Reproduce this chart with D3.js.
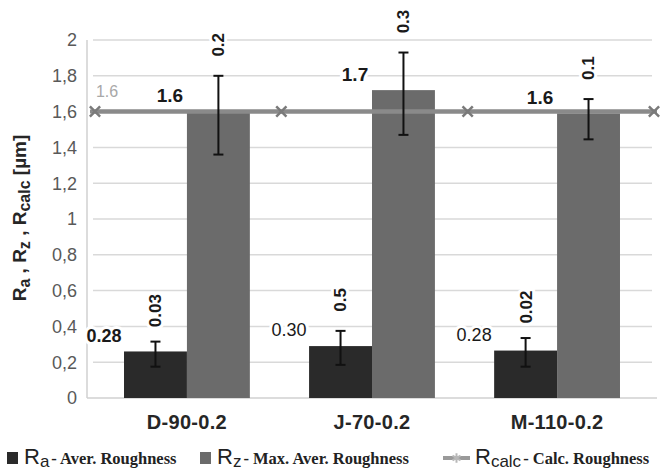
<!DOCTYPE html>
<html>
<head>
<meta charset="utf-8">
<script src="https://cdn.jsdelivr.net/npm/d3@7"></script>
<style>
body { margin: 0; background: #fff; }
svg { font-family: "Liberation Sans", Arial, sans-serif; }
.tick-label { fill: #595959; font-size: 18px; }
.cat-label { fill: #262626; font-size: 20px; font-weight: bold; letter-spacing: 0.3px; }
.val-label { fill: #1a1a1a; font-size: 19px; font-weight: bold; paint-order: stroke; stroke: #fff; stroke-width: 6px; }
.std-label { fill: #1a1a1a; font-size: 17px; font-weight: bold; paint-order: stroke; stroke: #fff; stroke-width: 6px; }
.legend-serif { font-family: "Liberation Serif", "Times New Roman", serif; font-size: 16.5px; font-weight: bold; fill: #222; }
</style>
</head>
<body>
<svg width="670" height="471"></svg>
<script>

var categories = ["D-90-0.2", "J-70-0.2", "M-110-0.2"];

// bar heights as drawn
var raValues = [0.26, 0.29, 0.265];
var rzValues = [1.6, 1.72, 1.59];

// error bar ends
var raLow = [0.175, 0.185, 0.175];
var raHigh = [0.315, 0.375, 0.335];
var rzLow = [1.36, 1.47, 1.445];
var rzHigh = [1.8, 1.93, 1.67];

// printed labels
var raLabels = ["0.28", "0.30", "0.28"];
var rzLabels = ["1.6", "1.7", "1.6"];
var raStdLabels = ["0.03", "0.5", "0.02"];
var rzStdLabels = ["0.2", "0.3", "0.1"];

var rcalcValues = [1.6, 1.6, 1.6, 1.6];
var rcalcLabel = "1.6";

var yTicks = [0, 0.2, 0.4, 0.6, 0.8, 1, 1.2, 1.4, 1.6, 1.8, 2];

var svg = d3.select("svg");

var y = d3.scaleLinear().domain([0, 2]).range([398, 40]);

var x = d3.scaleBand()
	.domain(categories)
	.range([87, 657])
	.paddingInner(0.32)
	.paddingOuter(0.2);

var xSub = d3.scaleBand()
	.domain(["ra", "rz"])
	.range([0, x.bandwidth()]);

var xCalc = d3.scalePoint()
	.domain(d3.range(rcalcValues.length))
	.range([95, 654]);

var fmt = function(d) { return String(+d.toFixed(1)).replace(".", ","); };

// grid
svg.append("g")
	.selectAll("line")
	.data(yTicks.filter(function(d) { return d > 0; }))
	.enter().append("line")
	.attr("x1", 93)
	.attr("x2", 652)
	.attr("y1", function(d) { return y(d); })
	.attr("y2", function(d) { return y(d); })
	.attr("stroke", "#d9d9d9")
	.attr("stroke-width", 1.5);

svg.append("line")
	.attr("x1", 87).attr("x2", 87)
	.attr("y1", y(2)).attr("y2", y(0))
	.attr("stroke", "#d0d0d0")
	.attr("stroke-width", 1.5);
svg.append("line")
	.attr("x1", 87).attr("x2", 657)
	.attr("y1", y(0)).attr("y2", y(0))
	.attr("stroke", "#d0d0d0")
	.attr("stroke-width", 1.5);

svg.append("g")
	.selectAll("text")
	.data(yTicks)
	.enter().append("text")
	.attr("class", "tick-label")
	.attr("x", 77)
	.attr("y", function(d) { return y(d); })
	.attr("dy", "0.35em")
	.attr("text-anchor", "end")
	.text(fmt);

svg.append("g")
	.selectAll("text")
	.data(categories)
	.enter().append("text")
	.attr("class", "cat-label")
	.attr("x", function(d) { return x(d) + x.bandwidth() / 2; })
	.attr("y", 429)
	.attr("text-anchor", "middle")
	.text(function(d) { return d; });

// bars
var groups = svg.append("g")
	.selectAll("g")
	.data(categories)
	.enter().append("g")
	.attr("transform", function(d) { return "translate(" + x(d) + ",0)"; });

groups.append("rect")
	.attr("x", xSub("ra"))
	.attr("width", xSub.bandwidth())
	.attr("y", function(d, i) { return y(raValues[i]); })
	.attr("height", function(d, i) { return y(0) - y(raValues[i]); })
	.attr("fill", "#2a2a2a");

groups.append("rect")
	.attr("x", xSub("rz"))
	.attr("width", xSub.bandwidth())
	.attr("y", function(d, i) { return y(rzValues[i]); })
	.attr("height", function(d, i) { return y(0) - y(rzValues[i]); })
	.attr("fill", "#6b6b6b");

// Rcalc line
var line = d3.line()
	.x(function(d, i) { return xCalc(i); })
	.y(function(d) { return y(d); });

svg.append("line")
	.attr("x1", 90).attr("x2", 657)
	.attr("y1", y(rcalcValues[0])).attr("y2", y(rcalcValues[rcalcValues.length - 1]))
	.attr("stroke", "#8a8a8a")
	.attr("stroke-width", 4);
svg.append("path")
	.datum(rcalcValues)
	.attr("d", line)
	.attr("fill", "none")
	.attr("stroke", "#8a8a8a")
	.attr("stroke-width", 4);

var cross = d3.symbol().type(d3.symbolX).size(70);
svg.append("g")
	.selectAll("path")
	.data(rcalcValues)
	.enter().append("path")
	.attr("d", cross)
	.attr("transform", function(d, i) { return "translate(" + xCalc(i) + "," + y(d) + ")"; })
	.attr("fill", "none")
	.attr("stroke", "#7a7a7a")
	.attr("stroke-width", 2.5);

svg.append("text")
	.attr("x", xCalc(0) + 12)
	.attr("y", y(rcalcValues[0]) - 20)
	.attr("dy", "0.35em")
	.attr("text-anchor", "middle")
	.attr("font-size", 16)
	.attr("fill", "#a8a8a8")
	.text(rcalcLabel);

// error bars
function errorBars(key, low, high) {
	var cx = function(d) { return x(d) + xSub(key) + xSub.bandwidth() / 2; };
	var e = svg.append("g").selectAll("g")
		.data(categories)
		.enter().append("g")
		.attr("stroke", "#111")
		.attr("stroke-width", 2);
	e.append("line")
		.attr("x1", cx).attr("x2", cx)
		.attr("y1", function(d, i) { return y(low[i]); })
		.attr("y2", function(d, i) { return y(high[i]); });
	[low, high].forEach(function(arr) {
		e.append("line")
			.attr("x1", function(d) { return cx(d) - 5; })
			.attr("x2", function(d) { return cx(d) + 5; })
			.attr("y1", function(d, i) { return y(arr[i]); })
			.attr("y2", function(d, i) { return y(arr[i]); });
	});
}
errorBars("ra", raLow, raHigh);
errorBars("rz", rzLow, rzHigh);

// value labels
svg.append("g")
	.selectAll("text")
	.data(categories)
	.enter().append("text")
	.attr("class", "val-label")
	.attr("x", function(d) { return x(d) + xSub("rz") - 17; })
	.attr("y", function(d, i) { return y(rzValues[i]) - 16; })
	.attr("dy", "0.35em")
	.attr("text-anchor", "middle")
	.text(function(d, i) { return rzLabels[i]; });

svg.append("g")
	.selectAll("text")
	.data(categories)
	.enter().append("text")
	.attr("class", "val-label")
	.attr("x", function(d) { return x(d) + xSub("ra") - 20; })
	.attr("y", function(d, i) { return y(raValues[i]) - 16; })
	.attr("dy", "0.35em")
	.attr("text-anchor", "middle")
	.style("font-weight", function(d, i) { return i === 0 ? "bold" : "normal"; })
	.attr("fill", "#3a3a3a")
	.style("font-size", "18px")
	.text(function(d, i) { return raLabels[i]; });

function stdLabels(key, high, labels) {
	svg.append("g")
		.selectAll("text")
		.data(categories)
		.enter().append("text")
		.attr("class", "std-label")
		.attr("transform", function(d, i) {
			return "translate(" + (x(d) + xSub(key) + xSub.bandwidth() / 2) + "," + (y(high[i]) - 31) + ") rotate(-90)";
		})
		.attr("dy", "0.35em")
		.attr("text-anchor", "middle")
		.text(function(d, i) { return labels[i]; });
}
stdLabels("ra", raHigh, raStdLabels);
stdLabels("rz", rzHigh, rzStdLabels);

// y axis title
var title = svg.append("text")
	.attr("transform", "translate(26,218) rotate(-90)")
	.attr("text-anchor", "middle")
	.attr("font-size", 19)
	.attr("font-weight", "bold")
	.attr("fill", "#262626");
[["R", ""], ["a", "sub"], [" , R", ""], ["z", "sub"], [" , R", ""], ["calc", "sub"], [" [µm]", ""]].forEach(function(p) {
	var t = title.append("tspan").text(p[0]);
	if (p[1] === "sub") t.attr("baseline-shift", "-25%").attr("font-size", 16);
});

// legend
var legendItems = [
	{sym: "a", text: "- Aver. Roughness", kind: "rect", color: "#2a2a2a", x: 7},
	{sym: "z", text: "- Max. Aver. Roughness", kind: "rect", color: "#6b6b6b", x: 200},
	{sym: "calc", text: "- Calc. Roughness", kind: "line", color: "#8a8a8a", x: 443}
];
var legend = svg.append("g")
	.selectAll("g")
	.data(legendItems)
	.enter().append("g")
	.attr("transform", function(d) { return "translate(" + d.x + ",458)"; });

legend.filter(function(d) { return d.kind === "rect"; })
	.append("rect")
	.attr("x", 0).attr("y", -6)
	.attr("width", 11).attr("height", 12)
	.attr("fill", function(d) { return d.color; });

var lg = legend.filter(function(d) { return d.kind === "line"; });
lg.append("line")
	.attr("x1", 0).attr("x2", 27)
	.attr("stroke", "#9a9a9a")
	.attr("stroke-width", 4);
lg.append("path")
	.attr("d", d3.symbol().type(d3.symbolAsterisk).size(60))
	.attr("transform", "translate(13.5,0)")
	.attr("fill", "none")
	.attr("stroke", "#b8b8b8")
	.attr("stroke-width", 2);

var lt = legend.append("text")
	.attr("x", function(d) { return d.kind === "rect" ? 17 : 32; })
	.attr("y", 6)
	.attr("fill", "#222");
lt.append("tspan")
	.attr("font-size", 22)
	.text("R");
lt.append("tspan")
	.attr("font-size", 17)
	.attr("baseline-shift", "-15%")
	.text(function(d) { return d.sym; });
lt.append("tspan")
	.attr("class", "legend-serif")
	.attr("dx", 2)
	.text(function(d) { return d.text; });

</script>
</body>
</html>
